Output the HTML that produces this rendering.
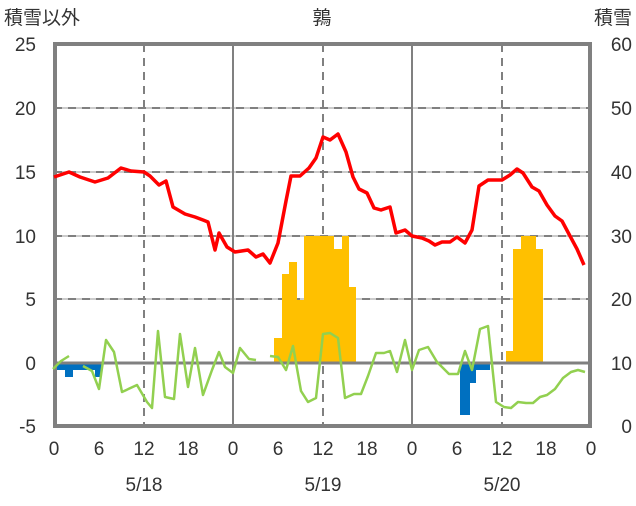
<!DOCTYPE html>
<html><head><meta charset="utf-8"><style>
body{margin:0;background:#fff;}
svg text{font-family:"Liberation Sans","Noto Sans CJK JP",sans-serif;fill:#333;font-size:19px;}
</style></head><body>
<svg width="636" height="501" viewBox="0 0 636 501" xmlns="http://www.w3.org/2000/svg">
<rect width="636" height="501" fill="#fff"/>
<g stroke="#bbb" stroke-width="1.5">
<line x1="54" x2="591" y1="108" y2="108"/><line x1="54" x2="591" y1="172" y2="172"/>
<line x1="54" x2="591" y1="236" y2="236"/><line x1="54" x2="591" y1="299" y2="299"/>
</g>
<g stroke="#808080" stroke-width="2" stroke-dasharray="8,6">
<line x1="54" x2="591" y1="108" y2="108"/><line x1="54" x2="591" y1="172" y2="172"/>
<line x1="54" x2="591" y1="236" y2="236"/><line x1="54" x2="591" y1="299" y2="299"/>
<line x1="144" x2="144" y1="44" y2="426"/><line x1="323" x2="323" y1="44" y2="426"/><line x1="502" x2="502" y1="44" y2="426"/>
</g>
<g stroke="#808080" stroke-width="2">
<line x1="233" x2="233" y1="44" y2="426"/><line x1="412" x2="412" y1="44" y2="426"/>
</g>
<g fill="#ffc000">
<rect x="274" y="338" width="8" height="25"/><rect x="282" y="274" width="7" height="89"/>
<rect x="289" y="262" width="8" height="101"/><rect x="297" y="300" width="7" height="63"/>
<rect x="304" y="236" width="30" height="127"/><rect x="334" y="249" width="8" height="114"/>
<rect x="342" y="236" width="7" height="127"/><rect x="349" y="287" width="7" height="76"/>
<rect x="506" y="351" width="7" height="12"/><rect x="513" y="249" width="8" height="114"/>
<rect x="521" y="236" width="15" height="127"/><rect x="536" y="249" width="7" height="114"/>
</g>
<g fill="#0070c0">
<rect x="57" y="363" width="45" height="7"/><rect x="65" y="363" width="8" height="14"/><rect x="95" y="363" width="7" height="14"/>
<rect x="460" y="363" width="10" height="52"/><rect x="470" y="363" width="6" height="20"/><rect x="476" y="363" width="14" height="7"/>
</g>
<line x1="54" x2="591" y1="363" y2="363" stroke="#808080" stroke-width="3"/>
<rect x="55" y="44" width="535" height="382" fill="none" stroke="#808080" stroke-width="4"/>
<g fill="none" stroke="#92d050" stroke-width="2.5" stroke-linejoin="round">
<polyline points="53,369 61,361 69,356"/>
<polyline points="83,366 92,371 99,389 106,340 114,352 122,392 137,385 147,402 152,408 158,331 165,397 174,399 180,334 188,387 195,348 203,395 212,370 219,352 225,367 233,373 240,348 249,359 256,360"/>
<polyline points="270,356 278,357 286,370 293,346 301,391 308,402 316,398 323,334 330,333 338,338 345,398 354,394 361,394 368,376 376,353 384,353 390,351 397,372 405,340 412,370 419,350 428,347 437,362 449,374 458,374 465,351 472,370 480,329 488,326 496,402 504,407 511,408 518,402 526,403 533,403 540,397 547,395 555,389 563,378 571,372 578,370 585,372"/>
</g>
<polyline fill="none" stroke="#ff0000" stroke-width="3.5" stroke-linejoin="round" points="54,177 69,172 80,177 95,182 108,178 121,168 131,171 144,172 150,176 159,185 166,181 173,207 185,214 195,217 203,220 208,222 215,250 219,233 227,247 235,252 248,250 256,257 263,254 270,263 278,243 286,201 291,176 300,176 309,168 316,158 323,137 330,140 338,134 346,152 353,177 359,189 367,193 374,208 381,210 390,207 396,233 405,230 412,236 422,238 429,241 435,245 442,242 450,242 457,237 465,243 472,230 479,186 488,180 502,180 510,175 517,169 523,173 532,187 539,191 547,205 555,216 562,221 570,236 577,249 584,265"/>
<g text-anchor="end">
<text x="36" y="51">25</text><text x="36" y="115">20</text><text x="36" y="179">15</text>
<text x="36" y="243">10</text><text x="36" y="306">5</text><text x="36" y="370">0</text><text x="36" y="433">-5</text>
</g>
<g text-anchor="end">
<text x="632" y="51">60</text><text x="632" y="115">50</text><text x="632" y="179">40</text>
<text x="632" y="243">30</text><text x="632" y="306">20</text><text x="632" y="370">10</text><text x="632" y="433">0</text>
</g>
<g text-anchor="middle">
<text x="54" y="455">0</text><text x="99" y="455">6</text><text x="144" y="455">12</text><text x="188" y="455">18</text>
<text x="233" y="455">0</text><text x="278" y="455">6</text><text x="323" y="455">12</text><text x="367" y="455">18</text>
<text x="412" y="455">0</text><text x="457" y="455">6</text><text x="502" y="455">12</text><text x="546" y="455">18</text><text x="591" y="455">0</text>
<text x="144" y="491">5/18</text><text x="323" y="491">5/19</text><text x="502" y="491">5/20</text>
<text x="322" y="24">鶉</text>
</g>
<text x="4" y="24">積雪以外</text>
<text x="632" y="24" text-anchor="end">積雪</text>
</svg>
</body></html>
